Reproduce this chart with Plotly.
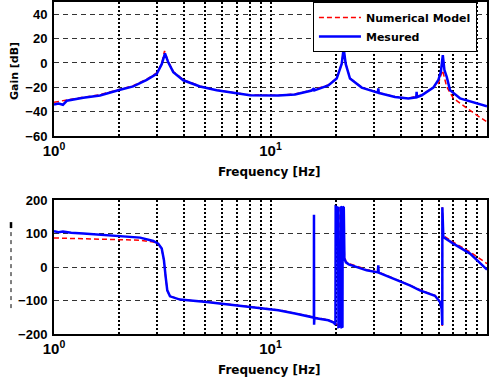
import plotly.graph_objects as go

# ---------------- data ----------------
gain_model_freq = [1.0, 1.145, 1.365, 1.631, 2.018, 2.324, 2.681, 2.981, 3.145, 3.24, 3.373, 3.557,
                   3.955, 4.725, 5.643, 6.733, 8.04, 10.87, 12.98, 15.5, 18.49, 20.22, 21.32, 21.75,
                   22.25, 23.29, 26.38, 31.47, 37.59, 43.3, 49.94, 56.49, 59.6, 62.3, 63.5, 65.17,
                   69.9, 77.7, 89.64, 100]
gain_model_db = [-32.2, -30.3, -28.1, -26.0, -21.5, -18.7, -13.3, -8.2, -0.5, 9.9, 1.0, -7.0,
                 -13.8, -19.0, -22.2, -24.4, -26.3, -26.5, -25.5, -22.3, -18.1, -12.5, -0.5, 10.5,
                 -0.5, -12.5, -20.0, -24.4, -27.6, -28.9, -26.2, -20.0, -16.8, -6.0, -11.5, -19.6,
                 -29.0, -35.0, -42.8, -48.3]

gain_meas_freq = [1.0, 1.05, 1.1, 1.145, 1.365, 1.631, 2.018, 2.324, 2.681, 2.981, 3.145, 3.256,
                  3.373, 3.557, 3.955, 4.725, 5.643, 6.733, 8.04, 10.87, 12.98, 15.5, 15.88, 15.95,
                  18.49, 20.22, 21.32, 21.78, 22.25, 23.29, 26.38, 31.3, 31.47, 31.65, 37.59, 43.3,
                  47.1, 47.3, 47.5, 49.94, 56.49, 59.6, 61.2, 62.5, 63.6, 65.17, 67.47, 75.05,
                  89.64, 100]
gain_meas_db = [-34.0, -33.2, -34.3, -31.0, -28.5, -26.6, -22.0, -19.2, -13.9, -8.9, -1.0, 7.8,
                0.3, -7.5, -14.2, -19.3, -22.4, -24.6, -26.5, -26.7, -25.8, -22.6, -20.8, -22.5,
                -18.4, -12.8, -0.8, 11.9, -0.8, -12.8, -20.2, -24.4, -20.8, -24.7, -27.9, -29.2,
                -28.2, -23.7, -28.0, -26.5, -20.2, -14.0, -7.3, 6.4, -6.0, -11.4, -22.3, -29.0,
                -33.2, -35.5]

phase_model_freq = [1.0, 1.365, 2.02, 2.5, 2.875, 3.03, 3.145, 3.22, 3.28, 3.336, 3.434, 3.82,
                    5.07, 5.84, 8.04, 10.87, 12.98, 15.5, 18.49, 19.86, 20.9, 20.95, 21.5, 21.75,
                    21.95, 22.3, 23.0, 25.0, 27.8, 31.47, 35.0, 39.6, 44.0, 49.0, 54.0, 57.5,
                    60.68, 61.77, 62.16, 62.2, 62.84, 69.9, 83.5, 100]
phase_model_deg = [86.6, 84.8, 81.8, 80.0, 74.5, 68.5, 54.0, 19.0, -31.0, -70.0, -87.0, -97.0,
                   -104.0, -109.0, -118.5, -128.0, -138.0, -148.0, -158.0, -166.0, -178.0, 178.0,
                   165.0, 110.0, 35.0, 16.0, 10.0, 3.0, -8.0, -15.0, -27.0, -41.0, -54.0, -68.0,
                   -78.0, -85.0, -103.0, -124.0, -176.0, 178.0, 94.0, 74.0, 45.0, 10.0]

phase_meas_freq = [1.0, 1.05, 1.1, 1.2, 1.365, 1.6, 2.02, 2.5, 2.875, 3.03, 3.145, 3.22, 3.28,
                   3.336, 3.434, 3.82, 5.07, 5.84, 8.04, 10.87, 12.98, 15.5, 15.86, 15.88, 15.9,
                   15.95, 18.49, 19.6, 19.95, 20.0, 20.5, 20.6, 21.05, 21.1, 21.3, 21.35, 21.5,
                   21.55, 21.8, 21.95, 22.3, 23.0, 25.0, 27.8, 31.3, 31.47, 31.6, 35.0, 39.6,
                   44.0, 49.0, 54.0, 57.5, 60.68, 61.77, 62.16, 62.2, 62.84, 69.9, 83.5, 100]
phase_meas_deg = [106.6, 104, 106, 102, 99.7, 96, 92.5, 87.7, 77.6, 69.8, 54.9, 20, -30,
                  -69.6, -87.5, -97.3, -104.5, -109.3, -119.4, -129, -139, -149, -151, 156, -172,
                  -152, -159, -166, -172, 180, 177, -179, -177, 180, 178, -179, -178,
                  180, 177, 25, 14, 8, 1, -10, -16, 5, -17, -28, -42.7,
                  -55, -69.6, -79, -86, -104.5, -125, -174, 178, 89.6, 69.9, 40, -8]

x_tick_vals = [1, 2, 3, 4, 5, 6, 7, 8, 9, 10, 20, 30, 40, 50, 60, 70, 80, 90, 100]
x_tick_text = ["10<sup>0</sup>"] + [""] * 8 + ["10<sup>1</sup>"] + [""] * 8 + ["10<sup>2</sup>"]
gain_ticks = [-60, -40, -20, 0, 20, 40]
phase_ticks = [-200, -100, 0, 100, 200]

# ---------------- figure ----------------
FONT = "DejaVu Sans"
TICKFONT = "Liberation Sans"
fig = go.Figure()
red_line = dict(color="red", width=1.5, dash="5px,3px")
blue_line = dict(color="blue", width=2.5)

fig.add_trace(go.Scatter(x=gain_model_freq, y=gain_model_db, mode="lines", name="Numerical Model",
                         line=red_line, xaxis="x", yaxis="y"))
fig.add_trace(go.Scatter(x=gain_meas_freq, y=gain_meas_db, mode="lines", name="Mesured",
                         line=blue_line, xaxis="x", yaxis="y"))
fig.add_trace(go.Scatter(x=phase_model_freq, y=phase_model_deg, mode="lines", showlegend=False,
                         line=red_line, xaxis="x2", yaxis="y2"))
fig.add_trace(go.Scatter(x=phase_meas_freq, y=phase_meas_deg, mode="lines", showlegend=False,
                         line=blue_line, xaxis="x2", yaxis="y2"))

xcommon = dict(type="log", range=[0, 2], tickmode="array", tickvals=x_tick_vals,
               ticktext=x_tick_text, showgrid=True, gridcolor="black", gridwidth=1.5,
               griddash="2px,2px", showline=True, linecolor="black", linewidth=2, mirror=True,
               ticks="", zeroline=False, automargin=False,
               tickfont=dict(family=TICKFONT, size=15, color="black", weight="bold"))
ycommon = dict(showgrid=True, gridcolor="#333", gridwidth=1.2, griddash="5px,4px", showline=True,
               linecolor="black", linewidth=2, mirror=True, ticks="", zeroline=False,
               automargin=False, ticklabelstandoff=2,
               tickfont=dict(family=TICKFONT, size=13, color="black", weight="bold"))

fig.update_layout(
    width=495, height=381,
    margin=dict(l=54, r=8, t=2, b=47, autoexpand=False),
    paper_bgcolor="white", plot_bgcolor="white",
    font=dict(family=FONT, size=11, color="black", weight="bold"),
    xaxis=dict(domain=[0, 1], anchor="y", **xcommon),
    yaxis=dict(domain=[0.596, 1], anchor="x", range=[-60, 50], tickmode="array",
               tickvals=gain_ticks, **ycommon),
    xaxis2=dict(domain=[0, 1], anchor="y2", **xcommon),
    yaxis2=dict(domain=[0, 0.4036], anchor="x2", range=[-200, 200], tickmode="array",
                tickvals=phase_ticks, **ycommon),
    legend=dict(x=0.598, y=1, xanchor="left", yanchor="top", bgcolor="white",
                bordercolor="black", borderwidth=1, tracegroupgap=0, itemwidth=42,
                font=dict(family=FONT, size=11, color="black", weight="bold")),
    showlegend=True,
)

fig.add_annotation(text="Gain [dB]", xref="paper", yref="paper", x=-0.0924, y=0.792,
                   xanchor="center", yanchor="middle",
                   textangle=-90, showarrow=False, font=dict(family=FONT, size=11, weight="bold"))
fig.add_annotation(text="Frequency [Hz]", xref="paper", yref="paper", x=0.4965, y=0.488,
                   xanchor="center", yanchor="middle",
                   showarrow=False, font=dict(family=FONT, size=12, weight="bold"))
fig.add_annotation(text="Frequency [Hz]", xref="paper", yref="paper", x=0.4965, y=-0.108,
                   xanchor="center", yanchor="middle",
                   showarrow=False, font=dict(family=FONT, size=12, weight="bold"))

# faint, broken y-label mark of the lower panel
fig.add_shape(type="line", xref="paper", yref="paper", x0=-0.0993, x1=-0.0993, y0=0.319, y1=0.337,
              line=dict(color="black", width=2.5))
fig.add_shape(type="line", xref="paper", yref="paper", x0=-0.0993, x1=-0.0993, y0=0.078, y1=0.319,
              line=dict(color="black", width=1, dash="4px,4px"))

fig.write_html("out.html", config={"displayModeBar": False},
               post_script="document.body.style.margin='0px';document.body.style.overflow='hidden';")
